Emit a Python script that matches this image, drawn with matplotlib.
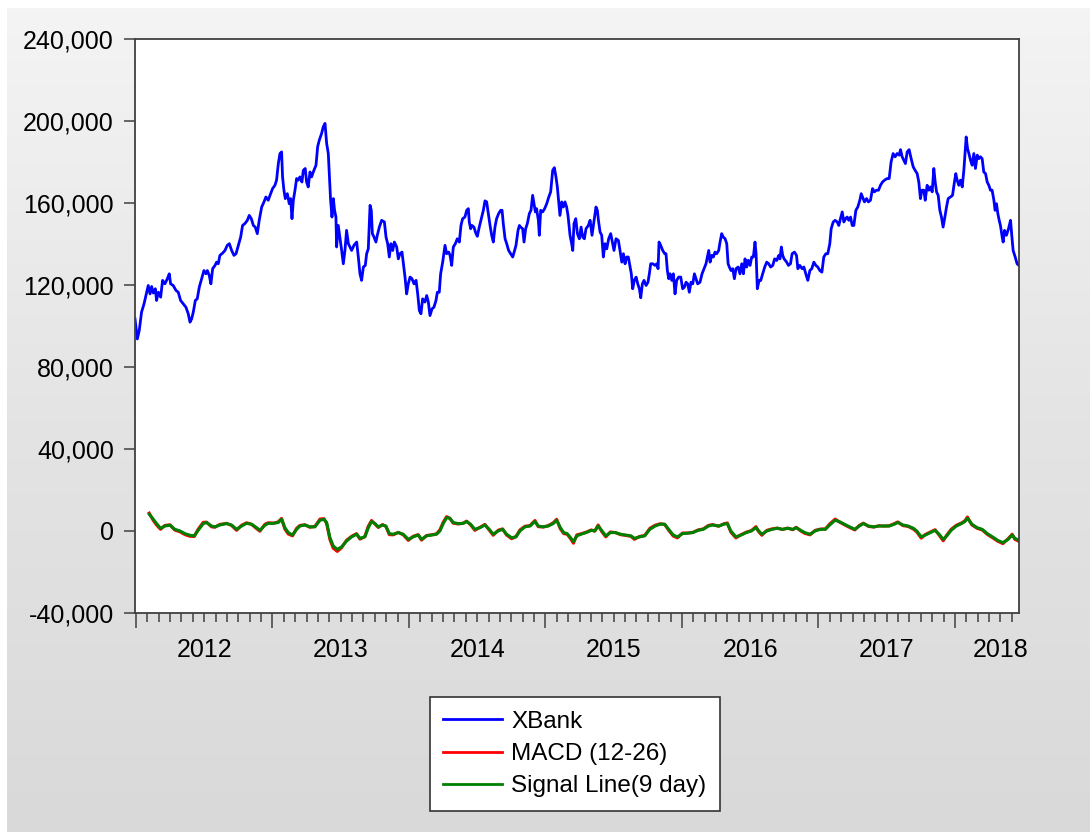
import numpy as np
import matplotlib
matplotlib.use("Agg")
import matplotlib.pyplot as plt
from matplotlib.colors import LinearSegmentedColormap
from matplotlib.ticker import FuncFormatter

plt.rcParams['font.family'] = ['Liberation Sans', 'DejaVu Sans']
plt.rcParams['axes.unicode_minus'] = False

# time in fractional years, price values
xbank_t = [2011.993, 2012.010, 2012.024, 2012.041, 2012.059, 2012.073, 2012.090, 2012.103, 2012.115, 2012.127,
           2012.142, 2012.151, 2012.164, 2012.181, 2012.195, 2012.212, 2012.230, 2012.244, 2012.254, 2012.273,
           2012.293, 2012.310, 2012.327, 2012.347, 2012.366, 2012.383, 2012.396, 2012.408, 2012.420, 2012.435,
           2012.449, 2012.464, 2012.481, 2012.498, 2012.513, 2012.523, 2012.537, 2012.549, 2012.562, 2012.579,
           2012.591, 2012.603, 2012.615, 2012.635, 2012.652, 2012.669, 2012.684, 2012.701, 2012.718, 2012.733,
           2012.750, 2012.767, 2012.781, 2012.798, 2012.816, 2012.830, 2012.845, 2012.860, 2012.874, 2012.889,
           2012.903, 2012.921, 2012.938, 2012.952, 2012.969, 2012.982, 2013.001, 2013.018, 2013.030, 2013.043,
           2013.055, 2013.067, 2013.074, 2013.084, 2013.094, 2013.109, 2013.123, 2013.133, 2013.143, 2013.153,
           2013.165, 2013.177, 2013.189, 2013.201, 2013.216, 2013.226, 2013.240, 2013.250, 2013.262, 2013.275,
           2013.287, 2013.299, 2013.319, 2013.331, 2013.343, 2013.360, 2013.372, 2013.385, 2013.397, 2013.409,
           2013.416, 2013.426, 2013.436, 2013.446, 2013.455, 2013.465, 2013.470, 2013.482, 2013.494, 2013.507,
           2013.519, 2013.531, 2013.543, 2013.556, 2013.568,
           2013.580, 2013.597, 2013.617, 2013.629, 2013.641, 2013.653, 2013.666, 2013.680, 2013.690, 2013.702,
           2013.715, 2013.724, 2013.732, 2013.744, 2013.758, 2013.768, 2013.783, 2013.800, 2013.820, 2013.832,
           2013.844, 2013.856, 2013.868, 2013.881, 2013.893, 2013.910, 2013.922, 2013.934, 2013.949, 2013.959,
           2013.971, 2013.983, 2013.995, 2014.008, 2014.022, 2014.037, 2014.052, 2014.064, 2014.076, 2014.088,
           2014.100, 2014.117, 2014.130, 2014.142, 2014.154, 2014.169, 2014.183, 2014.198, 2014.208, 2014.222,
           2014.232, 2014.247, 2014.264, 2014.276, 2014.291, 2014.301, 2014.313, 2014.325, 2014.340, 2014.354,
           2014.369, 2014.381, 2014.393, 2014.410, 2014.423, 2014.435, 2014.442, 2014.452, 2014.462, 2014.476,
           2014.491, 2014.501, 2014.515, 2014.533, 2014.545, 2014.557, 2014.569, 2014.581, 2014.594, 2014.606,
           2014.618, 2014.630, 2014.642, 2014.657, 2014.672, 2014.682, 2014.691, 2014.704, 2014.716, 2014.730,
           2014.745, 2014.760, 2014.774, 2014.784, 2014.799, 2014.809, 2014.818, 2014.833, 2014.843, 2014.855,
           2014.867, 2014.882, 2014.894, 2014.906, 2014.916, 2014.926, 2014.935, 2014.948, 2014.955, 2014.965,
           2014.979, 2014.994, 2015.009, 2015.023, 2015.038, 2015.053, 2015.065, 2015.077, 2015.087, 2015.097,
           2015.106, 2015.119, 2015.131, 2015.143, 2015.155, 2015.165,
           2015.180, 2015.192, 2015.200, 2015.209, 2015.222, 2015.234, 2015.248, 2015.261, 2015.273, 2015.285,
           2015.297, 2015.314, 2015.327, 2015.341, 2015.356, 2015.370, 2015.380, 2015.388, 2015.400, 2015.412,
           2015.424, 2015.436, 2015.449, 2015.463, 2015.478, 2015.490, 2015.502, 2015.517, 2015.534, 2015.546,
           2015.559, 2015.571, 2015.583, 2015.595, 2015.607, 2015.620, 2015.629, 2015.639, 2015.651, 2015.664,
           2015.676, 2015.688, 2015.698, 2015.710, 2015.722, 2015.737, 2015.751, 2015.761, 2015.771, 2015.786,
           2015.803, 2015.815, 2015.825, 2015.832, 2015.844, 2015.859, 2015.874, 2015.883, 2015.893, 2015.903,
           2015.913, 2015.925, 2015.937, 2015.949, 2015.961, 2015.976, 2015.991, 2016.005, 2016.018, 2016.030,
           2016.042, 2016.054, 2016.066, 2016.079, 2016.091, 2016.103, 2016.115, 2016.132, 2016.147, 2016.162,
           2016.176, 2016.186, 2016.196, 2016.206, 2016.218, 2016.230, 2016.242, 2016.254, 2016.269, 2016.279,
           2016.291, 2016.303, 2016.316, 2016.328, 2016.338, 2016.347, 2016.359, 2016.372, 2016.384, 2016.396,
           2016.411, 2016.425, 2016.438, 2016.450, 2016.462, 2016.474, 2016.486, 2016.499, 2016.511, 2016.523,
           2016.535, 2016.543, 2016.552, 2016.565, 2016.577, 2016.591, 2016.606, 2016.621, 2016.635, 2016.650,
           2016.665, 2016.679, 2016.694, 2016.709, 2016.718, 2016.728, 2016.738, 2016.748, 2016.758, 2016.767,
           2016.780,
           2016.795, 2016.807, 2016.824, 2016.839, 2016.849, 2016.863, 2016.880, 2016.893, 2016.907, 2016.922,
           2016.937, 2016.951, 2016.966, 2016.981, 2016.995, 2017.010, 2017.025, 2017.039, 2017.054, 2017.068,
           2017.083, 2017.093, 2017.108, 2017.122, 2017.137, 2017.149, 2017.161, 2017.174, 2017.186, 2017.198,
           2017.210, 2017.222, 2017.235, 2017.247, 2017.259, 2017.274, 2017.288, 2017.303, 2017.313, 2017.327,
           2017.337, 2017.352, 2017.366, 2017.381, 2017.396, 2017.410, 2017.425, 2017.440, 2017.454, 2017.469,
           2017.484, 2017.503, 2017.518, 2017.532, 2017.547, 2017.562, 2017.576, 2017.591, 2017.601, 2017.613,
           2017.625, 2017.637, 2017.650, 2017.664, 2017.679, 2017.694, 2017.708, 2017.723, 2017.735, 2017.747,
           2017.757, 2017.772, 2017.782, 2017.796, 2017.808, 2017.821, 2017.833, 2017.845, 2017.855, 2017.865,
           2017.877, 2017.889, 2017.901, 2017.913, 2017.926, 2017.938, 2017.950, 2017.967, 2017.982, 2017.996,
           2018.006, 2018.016, 2018.028, 2018.040, 2018.053, 2018.065, 2018.075, 2018.082, 2018.092, 2018.102,
           2018.114, 2018.126, 2018.138, 2018.150, 2018.163, 2018.175, 2018.187, 2018.199, 2018.211, 2018.224,
           2018.236, 2018.248, 2018.260, 2018.272, 2018.285, 2018.294, 2018.304, 2018.314, 2018.324, 2018.333,
           2018.346, 2018.353, 2018.363, 2018.377, 2018.392, 2018.407, 2018.416, 2018.426, 2018.441, 2018.455,
           2018.468]

xbank = [103400, 93600, 97700, 106700, 110700, 114800, 119700, 115600, 119200, 116000,
         118100, 112400, 116400, 114000, 122200, 120500, 123000, 125400, 120500, 119700,
         117300, 116400, 112400, 110700, 109100, 105900, 101800, 103400, 106700, 112400,
         113200, 118900, 123000, 127000, 125400, 127000, 124600, 120500, 127900, 129500,
         131100, 130300, 134400, 135500, 136800, 139300, 140100, 136800, 134400, 135200,
         139300, 143300, 149000, 149900, 151500, 153900, 152300, 149000, 148200, 145000,
         151500, 158000, 160500, 162900, 161300, 163700, 167000, 168600, 171100, 179200,
         184100, 184900, 172700, 166200, 162100, 164500, 159600, 162100, 152300, 161300,
         166200, 171900, 171100, 172700, 170200, 175900, 176800, 170200, 167800, 175100,
         172700, 175100, 178400, 187400, 190600, 193900, 197100, 198800, 189000, 184100,
         175100, 161300, 153100, 162100, 156400, 153100, 138500, 149000, 143300, 136800,
         130300, 136800, 146600, 140100, 138500,
         136800, 139300, 140900, 133600, 125400, 122200, 128700, 129500, 135200, 137600,
         158800, 156400, 145000, 143300, 140900, 144200, 148200, 151500, 150700, 143300,
         140100, 133600, 140100, 136800, 140900, 138500, 132700, 135200, 136000, 130300,
         123800, 115600, 120500, 123800, 123000, 120500, 122200, 115600, 107500, 105900,
         113200, 111600, 114800, 111600, 105000, 108300, 109100, 112400, 116400, 116400,
         125400, 131100, 139300, 135200, 136000, 134400, 129500, 138500, 140100, 142500,
         140900, 149000, 152300, 153100, 156400, 157200, 150700, 147400, 149000, 148200,
         145000, 143700, 148200, 153100, 156400, 161000, 160500, 154800, 149000, 144200,
         140900, 148200, 152300, 154800, 156400, 156400, 149900, 142500, 140100, 136800,
         135200, 133600, 136800, 139300, 146600, 149000, 148200, 147400, 140900, 147400,
         149900, 154800, 156400, 163700, 159600, 155600, 157200, 151500, 144200, 156400,
         155600, 157200, 159600, 162600, 165400, 175900, 177200, 172700, 167800, 160500,
         153900, 160500, 158000, 160500, 158000, 153900,
         144200, 140100, 136800, 149900, 152300, 145000, 142500, 148200, 143300, 142500,
         147400, 149000, 151500, 144200, 151500, 158000, 156400, 151500, 145800, 144200,
         133600, 140100, 137600, 142500, 145000, 140900, 136800, 142500, 141700, 136800,
         131100, 135200, 130300, 133600, 133600, 128700, 125400, 118100, 122200, 123800,
         120500, 118100, 113700, 120500, 122200, 119700, 121300, 125400, 130300, 130300,
         129500, 130300, 127900, 140900, 139300, 136800, 135200, 135200, 127000, 123000,
         125400, 122200, 125400, 115600, 122200, 123800, 123800, 118100, 118900, 121300,
         120500, 116400, 121300, 120500, 125400, 123000, 120500, 121300, 125400, 127900,
         130300, 133600, 136800, 131100, 134400, 133600, 136000, 135200, 136800, 140900,
         145000, 143300, 142500, 140100, 130300, 128700, 127000, 127900, 123000, 127900,
         128700, 125400, 130300, 125400, 132700, 128700, 132000, 129500, 133600, 133600,
         140900, 135200, 118100, 122200, 122200, 125400, 128700, 131100, 130300, 128700,
         129500, 132700, 131900, 134400, 132700, 138500, 134400, 132700, 131900, 131100,
         129500,
         130300, 135200, 136000, 134400, 127900, 129500, 127900, 128700, 125400, 122200,
         127000, 127900, 131100, 129500, 128700, 127000, 126200, 133600, 135200, 135200,
         140100, 147400, 150700, 151500, 150700, 149000, 152300, 155600, 150700, 152300,
         153100, 151500, 153100, 149000, 149000, 156400, 158000, 161300, 164500, 162100,
         160500, 162100, 160500, 161300, 167000, 165400, 166200, 166200, 168600, 170200,
         171100, 171900, 171900, 180000, 184100, 182500, 184100, 183300, 186000, 182500,
         180800, 179200, 184900, 186000, 181600, 177600, 175900, 174300, 170200, 162100,
         166200, 166200, 161300, 168600, 166200, 167800, 165400, 176800, 170200, 165400,
         163700, 156400, 153100, 148200, 153100, 158000, 162100, 162900, 163700, 170200,
         174300, 171100, 168600, 171100, 167800, 175900, 185700, 192200, 186500, 184100,
         180800, 178400, 184100, 176800, 183300, 181600, 182500, 181600, 175100, 174300,
         170200, 168600, 166200, 166200, 161300, 156400, 159600, 154800, 151500, 149000,
         143300, 140900, 146600, 144200, 147400, 151500, 144200, 136800, 133600, 130300,
         129500]

macd_t = [2012.097, 2012.127, 2012.151, 2012.180, 2012.212, 2012.249, 2012.285, 2012.322, 2012.359, 2012.395,
          2012.427, 2012.456, 2012.493, 2012.517, 2012.554, 2012.578, 2012.615, 2012.664, 2012.700, 2012.737,
          2012.774, 2012.810, 2012.847, 2012.884, 2012.908, 2012.945, 2012.969, 2013.006, 2013.042, 2013.067,
          2013.091, 2013.116, 2013.147, 2013.177, 2013.201, 2013.238, 2013.274, 2013.311, 2013.348, 2013.377,
          2013.397, 2013.421, 2013.445, 2013.475, 2013.506, 2013.543, 2013.580, 2013.616, 2013.641, 2013.677,
          2013.702, 2013.726, 2013.751, 2013.775, 2013.807, 2013.831, 2013.856, 2013.885, 2013.922, 2013.958,
          2013.995, 2014.031, 2014.068, 2014.092, 2014.129, 2014.166, 2014.202, 2014.227, 2014.251, 2014.276,
          2014.300, 2014.324, 2014.361, 2014.398, 2014.422, 2014.451, 2014.483, 2014.520, 2014.556, 2014.588,
          2014.617, 2014.654, 2014.686, 2014.715, 2014.752, 2014.784, 2014.813, 2014.850, 2014.886, 2014.923,
          2014.947, 2014.984, 2015.020, 2015.057, 2015.082, 2015.109, 2015.134, 2015.159, 2015.184, 2015.205,
          2015.230, 2015.260, 2015.298, 2015.336, 2015.361, 2015.386, 2015.411, 2015.442, 2015.475, 2015.512,
          2015.550, 2015.588, 2015.626, 2015.651, 2015.689, 2015.727, 2015.765, 2015.803, 2015.840, 2015.873,
          2015.903, 2015.936, 2015.967, 2016.004, 2016.042, 2016.080, 2016.118, 2016.156, 2016.194, 2016.224,
          2016.269, 2016.307, 2016.332, 2016.358, 2016.395, 2016.433, 2016.471, 2016.509, 2016.542, 2016.559,
          2016.585, 2016.622, 2016.660, 2016.698, 2016.736, 2016.774, 2016.812, 2016.837, 2016.870, 2016.900,
          2016.938, 2016.976, 2017.014, 2017.051, 2017.082, 2017.122, 2017.152, 2017.190, 2017.228, 2017.266,
          2017.299, 2017.329, 2017.367, 2017.405, 2017.442, 2017.480, 2017.518, 2017.556, 2017.581, 2017.619,
          2017.657, 2017.695, 2017.720, 2017.753, 2017.783, 2017.821, 2017.854, 2017.884, 2017.914, 2017.940,
          2017.972, 2018.010, 2018.048, 2018.073, 2018.091, 2018.124, 2018.162, 2018.199, 2018.237, 2018.275,
          2018.313, 2018.351, 2018.389, 2018.419, 2018.439, 2018.469]

signal = [8100, 5600, 3500, 1200, 2300, 2700, 700, -100, -1400, -2200,
          -2500, 200, 3500, 4000, 2300, 1900, 2800, 3500, 2800, 700,
          2300, 3600, 3200, 1500, 200, 2700, 3600, 3600, 4000, 5600,
          1500, -900, -2100, 700, 2300, 2800, 1900, 1900, 5100, 5600,
          4000, -3400, -7400, -9100, -7900, -5000, -3000, -1700, -3700, -3000,
          1500, 4500, 3500, 1900, 2800, 2300, -1400, -1700, -900, -1700,
          -4200, -3000, -2100, -4200, -2500, -2100, -1700, -100, 3500, 6400,
          6100, 4000, 3500, 3600, 4500, 3200, 700, 1500, 2800, 700,
          -1700, -100, 700, -1700, -3400, -3000, -100, 1900, 2300, 4500,
          2300, 1900, 2300, 3500, 5100, 1500, -900, -1400, -3400, -5300,
          -2500, -1700, -900, 200, -100, 2300, 200, -2500, -900, -900,
          -1700, -2100, -2500, -3700, -3000, -2500, 700, 2300, 3200, 3200,
          700, -2100, -3000, -1400, -1200, -900, 200, 700, 2300, 2800,
          2300, 3200, 3500, -100, -3000, -2100, -900, -100, 1500, 200,
          -1700, -100, 700, 1200, 700, 1200, 700, 1500, 200, -900,
          -1700, -100, 700, 700, 2800, 5100, 4500, 3200, 1900, 700,
          2300, 3500, 2300, 1900, 2300, 2300, 2300, 3200, 4000, 2800,
          2300, 1200, -100, -3000, -2100, -900, 200, -1700, -4200, -2500,
          200, 2300, 3500, 4500, 6100, 3200, 1500, 700, -1400, -3000,
          -4700, -5800, -4200, -2100, -3700, -4700]

macd = [8600, 5000, 2800, 700, 2600, 2900, 300, -500, -1900, -2700,
        -2800, 800, 4100, 4200, 1900, 1700, 3100, 3600, 2600, 200,
        2700, 3900, 3100, 1000, -200, 3200, 3900, 3700, 4300, 6000,
        800, -1600, -2500, 1200, 2600, 2900, 1700, 2100, 5700, 5900,
        3500, -4300, -8500, -10100, -8300, -4600, -2700, -1400, -4100, -2800,
        2200, 5000, 3300, 1600, 3000, 2100, -1900, -2000, -800, -2000,
        -4700, -2700, -1900, -4600, -2300, -2000, -1500, 500, 4200, 6900,
        6000, 3700, 3300, 3700, 4700, 2900, 200, 1700, 3100, 300,
        -2200, 300, 900, -2100, -3900, -2800, 400, 2200, 2500, 5000,
        2000, 1800, 2500, 3900, 5600, 900, -1400, -1700, -3900, -6100,
        -2000, -1500, -700, 400, -200, 2800, -300, -3000, -600, -900,
        -1900, -2300, -2700, -4200, -2800, -2300, 1200, 2700, 3400, 3100,
        200, -2600, -3500, -1100, -1100, -800, 400, 900, 2600, 3000,
        2200, 3400, 3800, -700, -3500, -1900, -700, 100, 2000, -200,
        -2200, 200, 900, 1300, 600, 1300, 500, 1700, -100, -1300,
        -2000, 200, 800, 900, 3300, 5700, 4300, 2900, 1600, 400,
        2600, 3700, 2100, 1800, 2400, 2300, 2400, 3500, 4300, 2500,
        2100, 800, -600, -3600, -1800, -600, 500, -2200, -4900, -2100,
        700, 2700, 3800, 4900, 6700, 2800, 1200, 400, -1800, -3400,
        -5100, -6300, -3900, -1700, -4200, -5200]

years = [2012, 2013, 2014, 2015, 2016, 2017, 2018]
year_label_pos = [2012.50, 2013.50, 2014.50, 2015.50, 2016.50, 2017.50, 2018.337]
yticks = [-40000, 0, 40000, 80000, 120000, 160000, 200000, 240000]

fig = plt.figure(figsize=(10.9, 8.32), dpi=100, facecolor='white')

# grey gradient window background
bg = fig.add_axes([7 / 1090, 0, 1 - 7 / 1090, 1 - 8 / 832], zorder=-10)
grad = np.linspace(0, 1, 256).reshape(-1, 1)
cmap = LinearSegmentedColormap.from_list('bg', ['#f4f4f4', '#e4e4e4', '#d9d9d9'])
bg.imshow(grad, aspect='auto', cmap=cmap, extent=[0, 1, 0, 1], origin='upper')
bg.axis('off')

ax = fig.add_axes([135 / 1090, 1 - 612.7 / 832, 884 / 1090, 573.7 / 832])
ax.set_facecolor('white')

l1, = ax.plot(xbank_t, xbank, color='#0000ff', lw=2.0, label='XBank')
l2, = ax.plot(macd_t, macd, color='#ff0000', lw=2.2, label='MACD (12-26)')
l3, = ax.plot(macd_t, signal, color='#008000', lw=2.2, label='Signal Line(9 day)')

ax.set_xlim(2011.993, 2018.469)
ax.set_ylim(-40000, 240000)

ax.set_yticks(yticks)
ax.yaxis.set_major_formatter(FuncFormatter(lambda v, p: '{:,.0f}'.format(v)))
ax.tick_params(axis='y', which='major', direction='out', length=7.7, width=1.1,
               color='#404040', labelsize=18, pad=7.5, labelcolor='black')

ax.set_xticks(years)
ax.set_xticks([y + m / 12 for y in range(2012, 2019) for m in range(1, 12) if y + m / 12 < 2018.46], minor=True)
ax.set_xticklabels([])
ax.tick_params(axis='x', which='major', direction='out', length=10.8, width=1.1, color='#404040')
ax.tick_params(axis='x', which='minor', direction='out', length=6.5, width=1.1, color='#404040')

for yr, pos in zip(years, year_label_pos):
    ax.text(pos, -0.0767, str(yr), transform=ax.get_xaxis_transform(),
            ha='center', va='baseline', fontsize=18, color='black')

for s in ax.spines.values():
    s.set_color('#404040')
    s.set_linewidth(1.3)

leg = fig.legend(handles=[l1, l2, l3], loc='center',
                 bbox_to_anchor=(575 / 1090, 1 - 754 / 832),
                 fontsize=17.5, frameon=True, fancybox=False, shadow=False,
                 handlelength=2.4, handletextpad=0.4, labelspacing=0.42,
                 borderpad=0.57, borderaxespad=0)
leg.get_frame().set_edgecolor('#333333')
leg.get_frame().set_linewidth(1.2)
leg.get_frame().set_facecolor('white')
leg.get_frame().set_alpha(1)
for line in leg.get_lines():
    line.set_linewidth(2.0)

fig.savefig('out.png', dpi=100, facecolor=fig.get_facecolor())
